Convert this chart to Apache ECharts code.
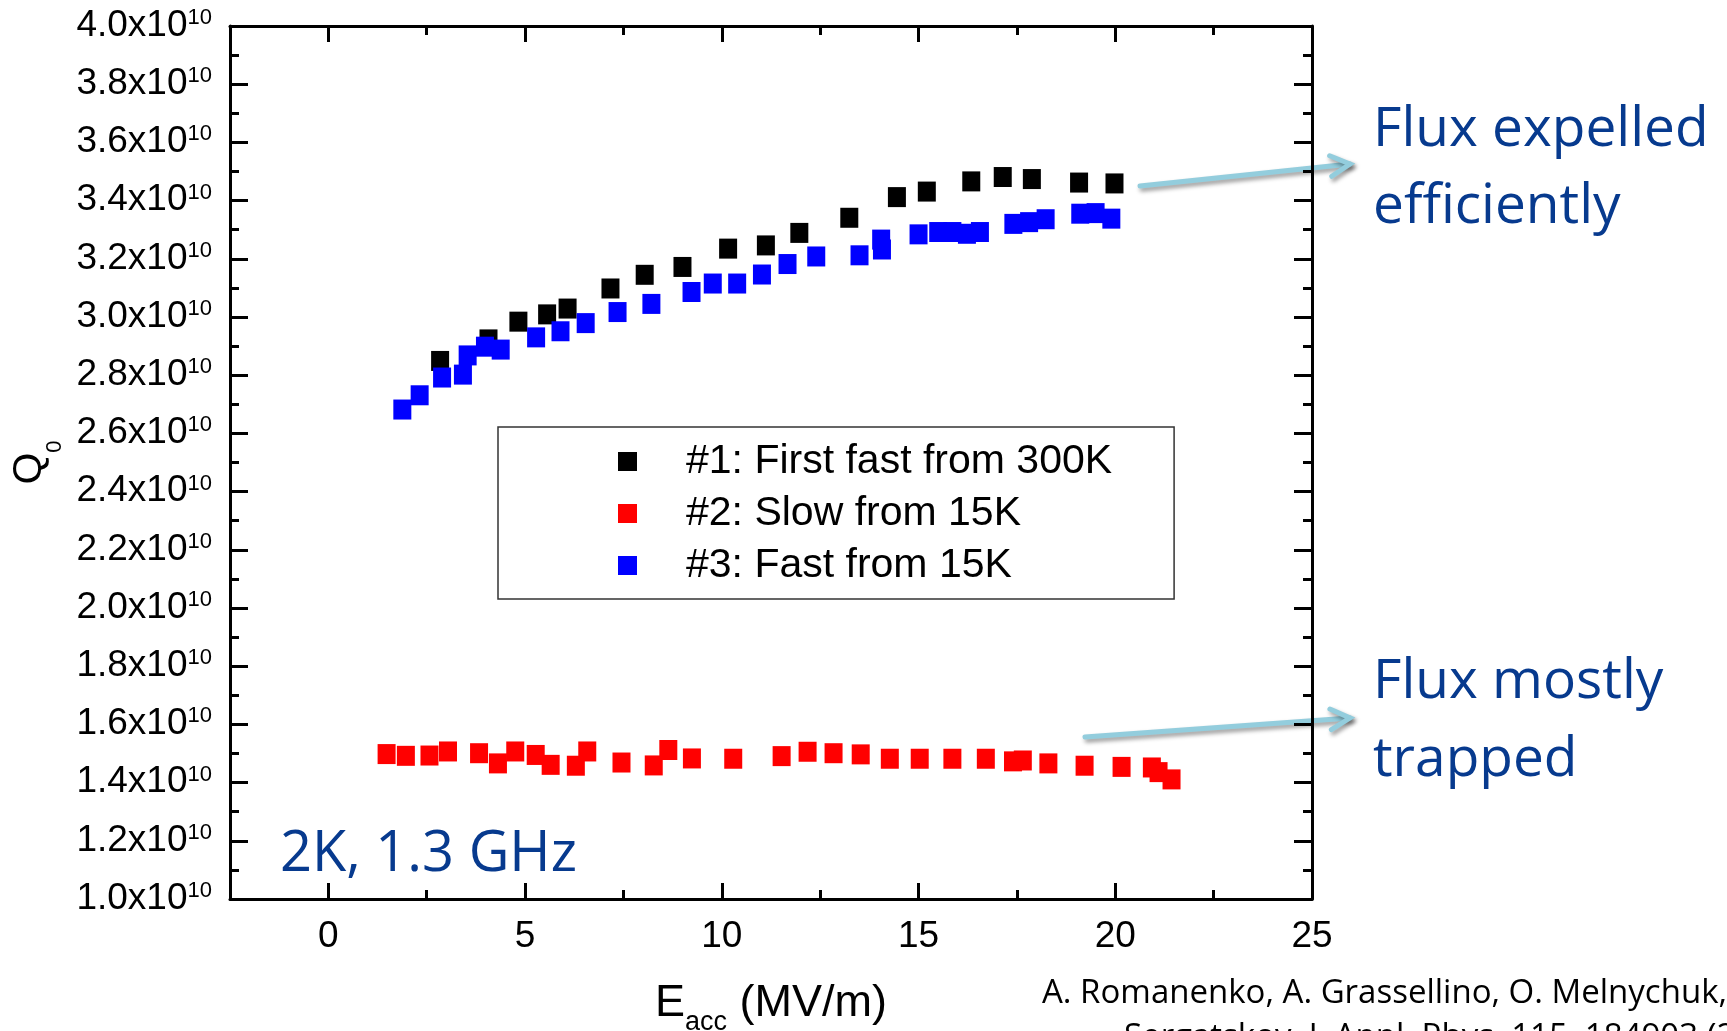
<!DOCTYPE html>
<html>
<head>
<meta charset="utf-8">
<script src="https://cdn.jsdelivr.net/npm/echarts@6.0.0/dist/echarts.min.js"></script>
<style>
  html, body { margin: 0; padding: 0; background: #fff; }
  #chart { width: 1727px; height: 1031px; }
</style>
</head>
<body>
<div id="chart"></div>
<script>
// Q0 (in units of 1e10) versus accelerating gradient Eacc (MV/m), 2 K, 1.3 GHz
const seriesNames = ['#1: First fast from 300K', '#2: Slow from 15K', '#3: Fast from 15K'];
const seriesColors = ['#000000', '#ff0000', '#0000ff'];

const fast300K_E = [2.84, 4.07, 4.83, 5.56, 6.08, 7.17, 8.04, 9.00, 10.16, 11.12, 11.97, 13.24, 14.45, 15.21, 16.34, 17.14, 17.88, 19.08, 19.98];
const fast300K_Q = [2.849, 2.923, 2.984, 3.009, 3.029, 3.098, 3.145, 3.172, 3.235, 3.246, 3.289, 3.341, 3.412, 3.431, 3.466, 3.481, 3.474, 3.462, 3.459];

const slow15K_E = [1.48, 1.97, 2.57, 3.04, 3.83, 4.31, 4.75, 5.27, 5.65, 6.29, 6.58, 7.45, 8.27, 8.64, 9.24, 10.29, 11.52, 12.18, 12.84, 13.53, 14.27, 15.03, 15.86, 16.71, 17.40, 17.65, 18.30, 19.22, 20.16, 20.93, 21.10, 21.43];
const slow15K_Q = [1.498, 1.492, 1.493, 1.507, 1.501, 1.466, 1.507, 1.495, 1.461, 1.458, 1.507, 1.469, 1.459, 1.512, 1.483, 1.482, 1.491, 1.506, 1.501, 1.497, 1.482, 1.482, 1.482, 1.482, 1.473, 1.476, 1.466, 1.458, 1.454, 1.452, 1.436, 1.411];

const fast15K_E = [1.88, 2.32, 2.89, 3.42, 3.54, 3.98, 4.38, 5.28, 5.90, 6.54, 7.35, 8.21, 9.23, 9.77, 10.39, 11.02, 11.67, 12.40, 13.50, 14.05, 14.07, 15.00, 15.50, 15.86, 16.23, 16.56, 17.41, 17.81, 18.23, 19.11, 19.50, 19.90];
const fast15K_Q = [2.682, 2.731, 2.792, 2.802, 2.868, 2.898, 2.888, 2.930, 2.951, 2.979, 3.017, 3.045, 3.086, 3.115, 3.115, 3.146, 3.182, 3.208, 3.212, 3.266, 3.232, 3.284, 3.292, 3.292, 3.286, 3.292, 3.320, 3.326, 3.336, 3.355, 3.357, 3.338];

// axis ranges and tick positions
const xMin = -2.5, xMax = 25;
const xMajorTicks = [0, 5, 10, 15, 20, 25];
const xMinorTicks = [-2.5, 2.5, 7.5, 12.5, 17.5, 22.5];
const yMin = 1.0, yMax = 4.0, yStep = 0.2;

const AXIS_FONT = '"Liberation Sans", Arial, sans-serif';
const NOTE_FONT = '"Open Sans", "Noto Sans", sans-serif';
const NOTE_BLUE = '#073a8e';
const ARROW_BLUE = '#93cddd';

function zip(xs, ys) { return xs.map((x, i) => [x, ys[i]]); }

const chart = echarts.init(document.getElementById('chart'), null, { renderer: 'canvas' });

const axisLineStyle = { color: '#000', width: 3 };

function xAxisPair(position, withLabels) {
  const major = {
    type: 'value', position: position, min: xMin, max: xMax,
    axisLine: { show: true, onZero: false, lineStyle: axisLineStyle },
    axisTick: { show: true, inside: true, length: 16, customValues: xMajorTicks, lineStyle: { color: '#000', width: 3 } },
    axisLabel: withLabels ? {
      show: true, customValues: xMajorTicks, margin: 19,
      fontSize: 37, color: '#000', fontFamily: AXIS_FONT
    } : { show: false },
    splitLine: { show: false }
  };
  if (withLabels) {
    major.name = '{e|E}{s|acc}{e| (MV/m)}';
    major.nameLocation = 'middle';
    major.nameGap = 82;
    major.nameTextStyle = {
      color: '#000', fontFamily: AXIS_FONT,
      rich: {
        e: { fontSize: 45, lineHeight: 50, verticalAlign: 'top', fontFamily: AXIS_FONT, color: '#000' },
        s: { fontSize: 27, lineHeight: 28, padding: [28, 0, 0, 0], verticalAlign: 'top', fontFamily: AXIS_FONT, color: '#000' }
      }
    };
  }
  const minor = {
    type: 'value', position: position, min: xMin, max: xMax,
    axisLine: { show: false, onZero: false },
    axisTick: { show: true, inside: true, length: 9, customValues: xMinorTicks, lineStyle: { color: '#000', width: 3 } },
    axisLabel: { show: false },
    splitLine: { show: false }
  };
  return [major, minor];
}

function yAxisDef(position, withLabels) {
  const ax = {
    type: 'value', position: position, min: yMin, max: yMax, interval: yStep,
    axisLine: { show: true, onZero: false, lineStyle: axisLineStyle },
    axisTick: { show: true, inside: true, length: 18, lineStyle: { color: '#000', width: 3 } },
    minorTick: { show: true, splitNumber: 2, length: 9, lineStyle: { color: '#000', width: 3 } },
    splitLine: { show: false },
    minorSplitLine: { show: false },
    axisLabel: withLabels ? {
      show: true, margin: 18, padding: [14, 0, 0, 0],
      formatter: v => '{m|' + v.toFixed(1) + 'x10}{e|10}',
      rich: {
        m: { fontSize: 37, lineHeight: 52, verticalAlign: 'top', color: '#000', fontFamily: AXIS_FONT },
        e: { fontSize: 22, lineHeight: 22, verticalAlign: 'top', color: '#000', fontFamily: AXIS_FONT }
      }
    } : { show: false }
  };
  if (withLabels) {
    ax.name = '{q|Q}{s|0}';
    ax.nameLocation = 'middle';
    ax.nameRotate = 90;
    ax.nameGap = 164;
    ax.nameTextStyle = {
      color: '#000', fontFamily: AXIS_FONT,
      rich: {
        q: { fontSize: 41, lineHeight: 44, verticalAlign: 'top', color: '#000', fontFamily: AXIS_FONT },
        s: { fontSize: 22, lineHeight: 24, padding: [34, 0, 0, 0], verticalAlign: 'top', color: '#000', fontFamily: AXIS_FONT }
      }
    };
  }
  return ax;
}

// straight arrow with an open chevron head, drawn in pixel space
function arrow(x1, y1, x2, y2) {
  const len = 22, spread = 28 * Math.PI / 180;
  const ang = Math.atan2(y1 - y2, x1 - x2);
  const b1 = [x2 + len * Math.cos(ang + spread), y2 + len * Math.sin(ang + spread)];
  const b2 = [x2 + len * Math.cos(ang - spread), y2 + len * Math.sin(ang - spread)];
  const style = {
    stroke: ARROW_BLUE, lineWidth: 5, lineCap: 'round', lineJoin: 'miter', fill: null,
    shadowColor: 'rgba(0,0,0,0.4)', shadowBlur: 4, shadowOffsetX: 2, shadowOffsetY: 3
  };
  return {
    type: 'group', silent: true,
    children: [
      { type: 'line', shape: { x1: x1, y1: y1, x2: x2, y2: y2 }, style: style },
      { type: 'polyline', shape: { points: [b1, [x2, y2], b2] }, style: style }
    ]
  };
}

function note(text, x, y, size, color) {
  return {
    type: 'text', silent: true, x: x, y: y,
    style: { text: text, fontSize: size, fontFamily: NOTE_FONT, fill: color, align: 'left', verticalAlign: 'middle' }
  };
}

const option = {
  backgroundColor: '#ffffff',
  animation: false,
  grid: { left: 230, top: 26, right: 415, bottom: 132, containLabel: false, outerBoundsMode: 'none' },
  xAxis: [].concat(xAxisPair('bottom', true), xAxisPair('top', false)),
  yAxis: [yAxisDef('left', true), yAxisDef('right', false)],
  legend: {
    orient: 'vertical', left: 498, top: 427,
    padding: [14, 62, 13, 120],
    itemWidth: 19, itemHeight: 19, itemGap: 11,
    icon: 'rect',
    borderColor: '#333', borderWidth: 1.5,
    data: seriesNames,
    formatter: name => '{t|' + name + '}',
    textStyle: {
      rich: { t: { fontSize: 41, lineHeight: 40, padding: [0, 0, 0, 44], color: '#000', fontFamily: AXIS_FONT } }
    }
  },
  series: [
    { name: seriesNames[0], type: 'scatter', symbol: 'rect', symbolSize: [18, 20], xAxisIndex: 0, yAxisIndex: 0,
      itemStyle: { color: seriesColors[0], opacity: 1 }, data: zip(fast300K_E, fast300K_Q) },
    { name: seriesNames[1], type: 'scatter', symbol: 'rect', symbolSize: [18, 20], xAxisIndex: 0, yAxisIndex: 0,
      itemStyle: { color: seriesColors[1], opacity: 1 }, data: zip(slow15K_E, slow15K_Q) },
    { name: seriesNames[2], type: 'scatter', symbol: 'rect', symbolSize: [18, 20], xAxisIndex: 0, yAxisIndex: 0,
      itemStyle: { color: seriesColors[2], opacity: 1 }, data: zip(fast15K_E, fast15K_Q) }
  ],
  graphic: [
    note('2K, 1.3 GHz', 280, 855, 56, NOTE_BLUE),
    note('Flux expelled', 1373, 130, 55, NOTE_BLUE),
    note('efficiently', 1373, 207, 55, NOTE_BLUE),
    note('Flux mostly', 1373, 682, 55, NOTE_BLUE),
    note('trapped', 1373, 760, 55, NOTE_BLUE),
    arrow(1140, 186, 1350, 164),
    arrow(1085, 737, 1350, 718),
    note('A. Romanenko, A. Grassellino, O. Melnychuk,', 1042, 994, 33, '#000'),
    note('Sergatskov, J. Appl. Phys. 115, 184903 (2014)', 1124, 1038, 33, '#000')
  ]
};

chart.setOption(option);
</script>
</body>
</html>
